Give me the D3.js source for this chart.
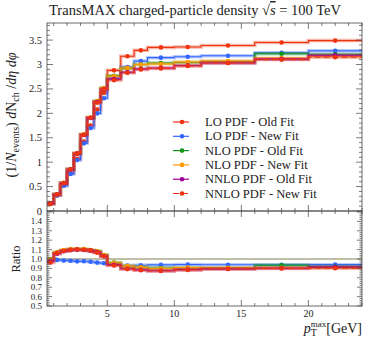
<!DOCTYPE html>
<html>
<head>
<meta charset="utf-8">
<script src="https://cdn.jsdelivr.net/npm/d3@7"></script>
<style>
  body { margin: 0; background: #fff; }
  text { font-family: "Liberation Serif", "DejaVu Serif", serif; fill: #222; }
</style>
</head>
<body>
<div id="plot"></div>
<script>
// bin edges in pT max [GeV]
var binEdges = [0.5, 1, 1.5, 2, 2.5, 3, 3.5, 4, 4.5, 5, 6, 7, 8, 10, 12, 16, 20, 24];

// one array per generator setup, values per bin
var loOld   = [0.156, 0.32, 0.525, 0.775, 1.07, 1.42, 1.75, 2.08, 2.42, 2.88, 3.17, 3.29, 3.35, 3.36, 3.39, 3.45, 3.49];
var loNew   = [0.156, 0.317, 0.517, 0.76, 1.043, 1.385, 1.70, 2.00, 2.31, 2.72, 2.95, 3.07, 3.14, 3.16, 3.18, 3.24, 3.28];
var nloOld  = [0.155, 0.342, 0.572, 0.853, 1.18, 1.565, 1.91, 2.25, 2.52, 2.77, 2.92, 3.00, 3.03, 3.04, 3.06, 3.22, 3.21];
var nloNew  = [0.155, 0.343, 0.575, 0.855, 1.18, 1.57, 1.915, 2.25, 2.52, 2.76, 2.93, 3.00, 3.01, 3.05, 3.07, 3.13, 3.17];
var nnloOld = [0.152, 0.338, 0.568, 0.848, 1.175, 1.555, 1.905, 2.23, 2.49, 2.70, 2.84, 2.91, 2.93, 2.98, 3.03, 3.11, 3.19];
var nnloNew = [0.150, 0.340, 0.570, 0.850, 1.18, 1.56, 1.91, 2.22, 2.49, 2.68, 2.83, 2.90, 2.92, 2.97, 3.03, 3.10, 3.15];

var seriesNames = ["LO PDF - Old Fit", "LO PDF - New Fit", "NLO PDF - Old Fit",
                   "NLO PDF - New Fit", "NNLO PDF - Old Fit", "NNLO PDF - New Fit"];
var seriesColors = ["#EE3311", "#3366FF", "#109618", "#FF9900", "#990099", "#EE3311"];
var seriesDash = [null, null, null, null, null, "6,3"];

var mainTicks = [0, 0.5, 1, 1.5, 2, 2.5, 3, 3.5];
var ratioTicks = [0.5, 0.6, 0.7, 0.8, 0.9, 1.0, 1.1, 1.2, 1.3, 1.4];
var xTicks = [5, 10, 15, 20];

var W = 374, H = 337;
var pLeft = 47, pRight = 362, pTop = 23, pMid = 211, pBottom = 306;

var svg = d3.select("#plot").append("svg")
  .attr("width", W).attr("height", H);

var x = d3.scaleLinear().domain([0.5, 24]).range([pLeft, pRight]);
var y = d3.scaleLinear().domain([0, 3.85]).range([pMid, pTop]);
var yr = d3.scaleLinear().domain([0.5, 1.5]).range([pBottom, pMid + 1]);

var allSeries = [loOld, loNew, nloOld, nloNew, nnloOld, nnloNew];
var centers = binEdges.slice(0, -1).map(function(e, i) { return (e + binEdges[i + 1]) / 2; });

var data = allSeries.map(function(vals, k) {
  return {
    name: seriesNames[k], color: seriesColors[k], dash: seriesDash[k],
    vals: vals,
    ratio: vals.map(function(v, i) { return v / loOld[i]; })
  };
});

function stepPts(vals) {
  return binEdges.map(function(e, i) { return [e, vals[Math.min(i, vals.length - 1)]]; });
}

var defs = svg.append("defs");
defs.append("clipPath").attr("id", "clipR")
  .append("rect").attr("x", pLeft).attr("y", pMid).attr("width", pRight - pLeft).attr("height", pBottom - pMid);
defs.append("clipPath").attr("id", "clipM")
  .append("rect").attr("x", pLeft).attr("y", pTop).attr("width", pRight - pLeft).attr("height", pMid - pTop);

function drawPanel(g, ys, key, series) {
  var line = d3.line().curve(d3.curveStepAfter)
    .x(function(d) { return x(d[0]); })
    .y(function(d) { return ys(d[1]); });
  var grp = g.selectAll("g.series").data(series).enter().append("g").attr("class", "series");
  // light band behind each line
  grp.append("path")
    .attr("d", function(d) { return line(stepPts(d[key])); })
    .attr("fill", "none")
    .attr("stroke", function(d) { return d.color; })
    .attr("stroke-opacity", 0.35)
    .attr("stroke-width", 3.5);
  grp.append("path")
    .attr("d", function(d) { return line(stepPts(d[key])); })
    .attr("fill", "none")
    .attr("stroke", function(d) { return d.color; })
    .attr("stroke-dasharray", function(d) { return d.dash; })
    .attr("stroke-width", 1.1);
  grp.selectAll("circle").data(function(d) {
      return d[key].map(function(v, i) { return {c: centers[i], v: v, color: d.color}; });
    }).enter().append("circle")
    .attr("cx", function(d) { return x(d.c); })
    .attr("cy", function(d) { return ys(d.v); })
    .attr("r", 2.3)
    .attr("fill", function(d) { return d.color; });
}

var gm = svg.append("g").attr("clip-path", "url(#clipM)");
drawPanel(gm, y, "vals", data);

// ratio panel: reference (LO old fit) drawn as the line at 1
var gr = svg.append("g").attr("clip-path", "url(#clipR)");
gr.append("line")
  .attr("x1", pLeft).attr("x2", pRight).attr("y1", yr(1)).attr("y2", yr(1))
  .attr("stroke", "#7f7f55").attr("stroke-width", 1);
drawPanel(gr, yr, "ratio", data.slice(1));

// frames
var axisCol = "#444";
[[pTop, pMid], [pMid, pBottom]].forEach(function(p) {
  svg.append("rect").attr("x", pLeft).attr("y", p[0])
    .attr("width", pRight - pLeft).attr("height", p[1] - p[0])
    .attr("fill", "none").attr("stroke", axisCol).attr("stroke-width", 0.8);
});

function tickLine(x1, y1, x2, y2) {
  svg.append("line").attr("x1", x1).attr("y1", y1).attr("x2", x2).attr("y2", y2)
    .attr("stroke", axisCol).attr("stroke-width", 0.7);
}

// x ticks on main top/bottom and ratio top/bottom
d3.range(1, 25).forEach(function(v) {
  var px = x(v), len = (v % 5 === 0) ? 6 : 3;
  tickLine(px, pTop, px, pTop + len);
  tickLine(px, pMid, px, pMid - len);
  tickLine(px, pMid, px, pMid + len);
  tickLine(px, pBottom, px, pBottom - len);
});

// y ticks main
d3.range(0, 39).forEach(function(i) {
  var py = y(i / 10), len = (i % 5 === 0) ? 6 : 3;
  tickLine(pLeft, py, pLeft + len, py);
  tickLine(pRight, py, pRight - len, py);
});
// y ticks ratio
d3.range(50, 151, 2).forEach(function(i) {
  var py = yr(i / 100), len = (i % 10 === 0) ? 5 : 2.5;
  tickLine(pLeft, py, pLeft + len, py);
  tickLine(pRight, py, pRight - len, py);
});

svg.selectAll("text.ym").data(mainTicks).enter().append("text")
  .attr("x", pLeft - 5).attr("y", function(d) { return y(d) + 3.5; })
  .attr("text-anchor", "end").style("font-size", "10.5px")
  .text(function(d) { return d; });

svg.selectAll("text.yr").data(ratioTicks).enter().append("text")
  .attr("x", pLeft - 5).attr("y", function(d) { return yr(d) + 3; })
  .attr("text-anchor", "end").style("font-size", "9px")
  .text(function(d) { return d.toFixed(1); });

svg.selectAll("text.xt").data(xTicks).enter().append("text")
  .attr("x", function(d) { return x(d); }).attr("y", pBottom + 11)
  .attr("text-anchor", "middle").style("font-size", "10px")
  .text(function(d) { return d; });

// title
var title = svg.append("text").attr("x", 195).attr("y", 15)
  .attr("text-anchor", "middle").style("font-size", "14.5px");
title.append("tspan").text("TransMAX charged-particle density ");
title.append("tspan").text("√");
title.append("tspan").style("font-style", "italic").style("text-decoration", "overline").text("s");
title.append("tspan").text(" = 100 TeV");

// y label
var yl = svg.append("text")
  .attr("transform", "translate(16," + ((pTop + pMid) / 2 - 2) + ") rotate(-90)")
  .attr("text-anchor", "middle").style("font-size", "14px");
yl.append("tspan").text("(1/");
yl.append("tspan").style("font-style", "italic").text("N");
yl.append("tspan").attr("dy", 3).style("font-size", "10px").text("events");
yl.append("tspan").attr("dy", -3).text(") ");
yl.append("tspan").style("font-style", "italic").text("d");
yl.append("tspan").text("N");
yl.append("tspan").attr("dy", 3).style("font-size", "10px").text("ch");
yl.append("tspan").attr("dy", -3).text(" /");
yl.append("tspan").style("font-style", "italic").text("dη dφ");

svg.append("text")
  .attr("transform", "translate(20," + yr(1) + ") rotate(-90)")
  .attr("text-anchor", "middle").style("font-size", "12.5px")
  .text("Ratio");

// x label
var xl = svg.append("text").attr("x", pRight).attr("y", 333)
  .attr("text-anchor", "end").style("font-size", "14px");
xl.append("tspan").style("font-style", "italic").text("p");
xl.append("tspan").attr("dy", 3).style("font-size", "10px").text("T");
xl.append("tspan").attr("dx", -6).attr("dy", -9).style("font-size", "9px").text("max");
xl.append("tspan").attr("dy", 6).text("[GeV]");

// legend
var lg = svg.selectAll("g.leg").data(data).enter().append("g")
  .attr("transform", function(d, i) { return "translate(173," + (122 + i * 14.3) + ")"; });
lg.append("line").attr("x1", 0).attr("x2", 16).attr("y1", 0).attr("y2", 0)
  .attr("stroke", function(d) { return d.color; })
  .attr("stroke-width", 1.2)
  .attr("stroke-dasharray", function(d) { return d.dash; });
lg.append("circle").attr("cx", 9).attr("cy", 0).attr("r", 2.3)
  .attr("fill", function(d) { return d.color; });
lg.append("text").attr("x", 32).attr("y", 4).style("font-size", "12.5px")
  .text(function(d) { return d.name; });
</script>
</body>
</html>
